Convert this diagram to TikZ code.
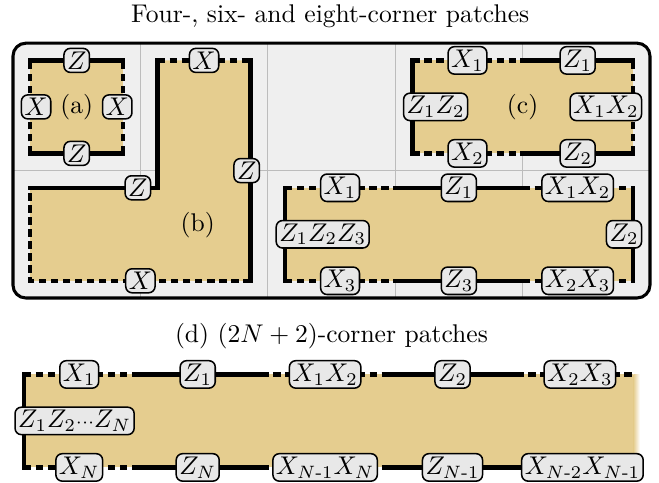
\documentclass[tikz,border=0pt]{standalone}
\usepackage{amsmath}
\usepackage{tikz}
\usetikzlibrary{positioning}
\definecolor{patchtan}{RGB}{229,205,143}
\definecolor{panelgray}{RGB}{239,239,239}
\definecolor{gridgray}{RGB}{188,188,188}
\definecolor{lblgray}{RGB}{232,232,232}
\newcommand{\mo}{\text{-}}
\tikzset{
  lbl/.style    ={draw, rounded corners=2.5pt, fill=lblgray, line width=0.6pt, inner sep=1.2pt, minimum height=0.33cm, minimum width=0.34cm},
  zedge/.style  ={line width=1.7pt, line cap=rect},
  xedge/.style  ={line width=1.7pt, dash pattern=on 2.9pt off 1.8pt},
  patch/.style  ={fill=patchtan},
  gridln/.style ={draw=gridgray, line width=0.5pt},
  panel/.style  ={line width=1.2pt, rounded corners=5pt},
}
\begin{document}
\begin{tikzpicture}[x=1.75cm, y=1.75cm]
  \useasboundingbox (-0.102,-1.452) rectangle (5.071,2.339);
  \node (ttl) at (2.49,2.21) {Four-, six- and eight-corner patches};
  \fill[panelgray, panel] (0,0) rectangle (5,2);
  \foreach \x in {1,...,4} \draw[gridln] (\x,0) -- (\x,2);
  \draw[gridln] (0,1) -- (5,1);

  % (a)
  \fill[patch] (0.135,1.135) rectangle (0.865,1.865);
  \draw[zedge] (0.135,1.865) -- (0.865,1.865);
  \draw[zedge] (0.135,1.135) -- (0.865,1.135);
  \draw[xedge] (0.135,1.135) -- (0.135,1.865);
  \draw[xedge] (0.865,1.135) -- (0.865,1.865);
  \node (alab) at (0.5,1.5) {(a)};
  \node[lbl] (aZt) at (0.5,1.865) {$Z$};
  \node[lbl] (aZb) at (0.5,1.135) {$Z$};
  \node[lbl, anchor=west] (aXl) at (0.06,1.5) {$X$};
  \node[lbl, anchor=east] (aXr) at (0.94,1.5) {$X$};

  % (b)
  \fill[patch] (0.135,0.135) -| (1.865,1.865) -| (1.135,0.865) -| cycle;
  \draw[zedge] (0.135,0.865) -- (1.135,0.865) -- (1.135,1.865);
  \draw[xedge] (1.135,1.865) -- (1.865,1.865);
  \draw[zedge] (1.865,1.865) -- (1.865,0.135);
  \draw[xedge] (1.865,0.135) -- (0.135,0.135) -- (0.135,0.865);
  \node (blab) at (1.45,0.57) {(b)};
  \node[lbl] (bXt) at (1.5,1.865) {$X$};
  \node[lbl, anchor=east] (bZr) at (1.94,1.0) {$Z$};
  \node[lbl] (bXb) at (1.0,0.135) {$X$};
  \node[lbl] (bZi) at (0.98,0.865) {$Z$};

  % (c)
  \fill[patch] (3.135,1.135) rectangle (4.865,1.865);
  \foreach \y in {1.135,1.865} {
    \draw[xedge] (3.135,\y) -- (4.0,\y);
    \draw[zedge] (4.0,\y) -- (4.865,\y);
  }
  \draw[zedge] (3.135,1.135) -- (3.135,1.865);
  \draw[xedge] (4.865,1.135) -- (4.865,1.865);
  \node (clab) at (4.0,1.5) {(c)};
  \node[lbl] (cX1) at (3.5675,1.865) {$X_1$};
  \node[lbl] (cZ1) at (4.4325,1.865) {$Z_1$};
  \node[lbl] (cX2) at (3.5675,1.135) {$X_2$};
  \node[lbl] (cZ2) at (4.4325,1.135) {$Z_2$};
  \node[lbl, anchor=west] (cZZ) at (3.06,1.5) {$Z_1Z_2$};
  \node[lbl, anchor=east] (cXX) at (4.94,1.5) {$X_1X_2$};

  % eight corners
  \fill[patch] (2.135,0.135) rectangle (4.865,0.865);
  \foreach \y in {0.135,0.865} {
    \draw[xedge] (2.135,\y) -- (3.0,\y);
    \draw[zedge] (3.0,\y) -- (4.0,\y);
    \draw[xedge] (4.0,\y) -- (4.865,\y);
  }
  \draw[zedge] (2.135,0.135) -- (2.135,0.865);
  \draw[zedge] (4.865,0.135) -- (4.865,0.865);
  \node[lbl] (eX1) at (2.5675,0.865) {$X_1$};
  \node[lbl] (eZ1) at (3.5,0.865) {$Z_1$};
  \node[lbl] (eXX1) at (4.4325,0.865) {$X_1X_2$};
  \node[lbl] (eX3) at (2.5675,0.135) {$X_3$};
  \node[lbl] (eZ3) at (3.5,0.135) {$Z_3$};
  \node[lbl] (eXX2) at (4.4325,0.135) {$X_2X_3$};
  \node[lbl, anchor=west] (eZZ) at (2.06,0.5) {$Z_1Z_2Z_3$};
  \node[lbl, anchor=east] (eZ2) at (4.94,0.5) {$Z_2$};

  \draw[panel] (0,0) rectangle (5,2);

  % (d)
  \node (dttl) at (2.5,-0.3) {(d) $(2N+2)$-corner patches};
  \fill[patch] (0.085,-1.33) rectangle (4.87,-0.6);
  \shade[left color=patchtan, right color=white] (4.87,-1.33) rectangle (4.92,-0.6);
  \foreach \y in {-0.6,-1.33} {
    \draw[xedge] (0.085,\y) -- (0.95,\y);
    \draw[zedge] (0.95,\y) -- (1.95,\y);
    \draw[xedge] (1.95,\y) -- (2.95,\y);
    \draw[zedge] (2.95,\y) -- (3.95,\y);
    \draw[xedge] (3.95,\y) -- (4.88,\y);
  }
  \draw[zedge] (0.085,-1.33) -- (0.085,-0.6);
  \node[lbl] (dX1) at (0.52,-0.6) {$X_1$};
  \node[lbl] (dZ1) at (1.45,-0.6) {$Z_1$};
  \node[lbl] (dXX1) at (2.45,-0.6) {$X_1X_2$};
  \node[lbl] (dZ2) at (3.45,-0.6) {$Z_2$};
  \node[lbl] (dXX2) at (4.45,-0.6) {$X_2X_3$};
  \node[lbl] (dXN) at (0.52,-1.33) {$X_N$};
  \node[lbl] (dZN) at (1.45,-1.33) {$Z_N$};
  \node[lbl] (dXX3) at (2.45,-1.33) {$X_{N\mo1}X_N$};
  \node[lbl] (dZN1) at (3.45,-1.33) {$Z_{N\mo1}$};
  \node[lbl] (dXX4) at (4.47,-1.33) {$X_{N\mo2}X_{N\mo1}$};
  \node[lbl, anchor=west] (dZZ) at (0.01,-0.965) {$Z_1Z_2{\scriptstyle\cdots}Z_N$};
\end{tikzpicture}
\end{document}
